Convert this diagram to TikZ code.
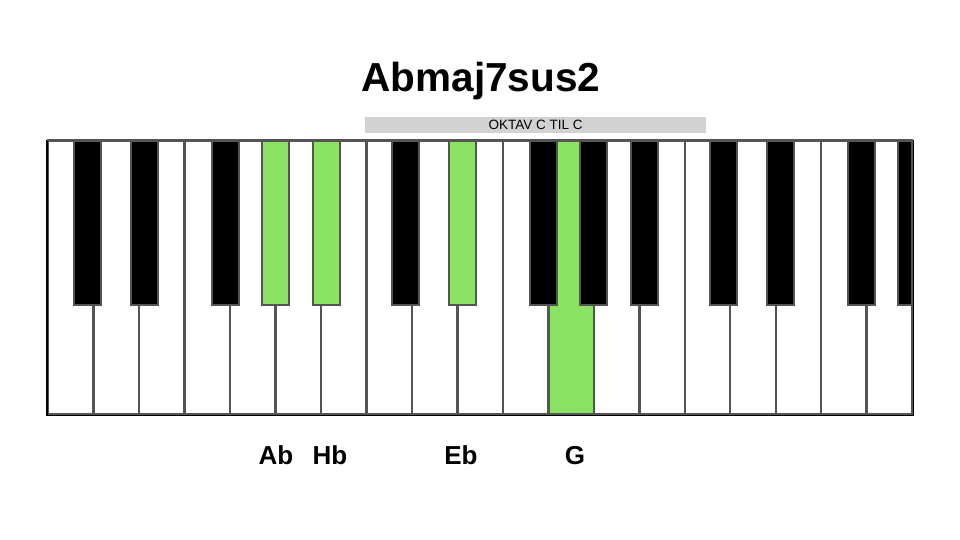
\documentclass[tikz,border=0pt]{standalone}
\usepackage{fontspec}
\setmainfont{Liberation Sans}

\definecolor{keygreen}{RGB}{140,226,100}
\definecolor{keygray}{RGB}{85,85,85}
\definecolor{bargray}{RGB}{210,210,210}

\begin{document}
\begin{tikzpicture}[x=1pt, y=-1pt]
    % Define styles
    \tikzstyle{whitekey} = [rectangle, anchor=north west, minimum width=45.47pt, minimum height=273pt, draw=keygray, line width=2.4pt, fill=white, inner sep=0pt]
    \tikzstyle{greenwhitekey} = [whitekey, fill=keygreen]
    \tikzstyle{blackkey} = [rectangle, anchor=north west, minimum width=27pt, minimum height=164pt, draw=keygray, line width=2.2pt, fill=black, inner sep=0pt]
    \tikzstyle{greenblackkey} = [blackkey, fill=keygreen]
    \tikzstyle{notename} = [font=\bfseries\fontsize{26}{28}\selectfont, inner sep=0pt, anchor=base]

    \useasboundingbox (0,0) rectangle (960,540);

    % Title and octave bar
    \node[font=\bfseries\fontsize{40.5}{44}\selectfont, inner sep=0pt] (title) at (481,81) {Abmaj7sus2};
    \node[rectangle, fill=bargray, anchor=north west, minimum width=341pt, minimum height=16pt, inner sep=0pt] (octave) at (365,117) {};
    \node[font=\fontsize{13.5}{15}\selectfont, inner sep=0pt] (octavetext) at (octave.center) {OKTAV C TIL C};

    % White keys
    \foreach \i/\s in {1/whitekey,2/whitekey,3/whitekey,4/whitekey,5/whitekey,6/whitekey,7/whitekey,8/whitekey,9/whitekey,10/whitekey,11/whitekey,12/greenwhitekey,13/whitekey,14/whitekey,15/whitekey,16/whitekey,17/whitekey,18/whitekey,19/whitekey}
        \node[\s] (w\i) at ({47+(\i-1)*45.47},140) {};

    % Black keys
    \foreach \i/\x/\s in {1/73/blackkey,2/130/blackkey,3/211/blackkey,4/261/greenblackkey,5/312/greenblackkey,6/391/blackkey,7/448/greenblackkey,8/529/blackkey,9/579/blackkey,10/630/blackkey,11/709/blackkey,12/766/blackkey,13/847/blackkey}
        \node[\s] (b\i) at (\x,140) {};
    \node[blackkey, minimum width=14pt] (b14) at (897,140) {};

    % Keyboard outline
    \draw[black, line width=1.6pt] (w1.north west) -- (w1.south west) -- (w19.south east) -- (w19.north east);
    \draw[keygray, line width=1.6pt] (w1.north west) -- (w19.north east);

    % Note names
    \node[notename] (ab) at (276,464) {Ab};
    \node[notename] (hb) at (330,464) {Hb};
    \node[notename] (eb) at (461,464) {Eb};
    \node[notename] (g) at (575,464) {G};

\end{tikzpicture}
\end{document}
